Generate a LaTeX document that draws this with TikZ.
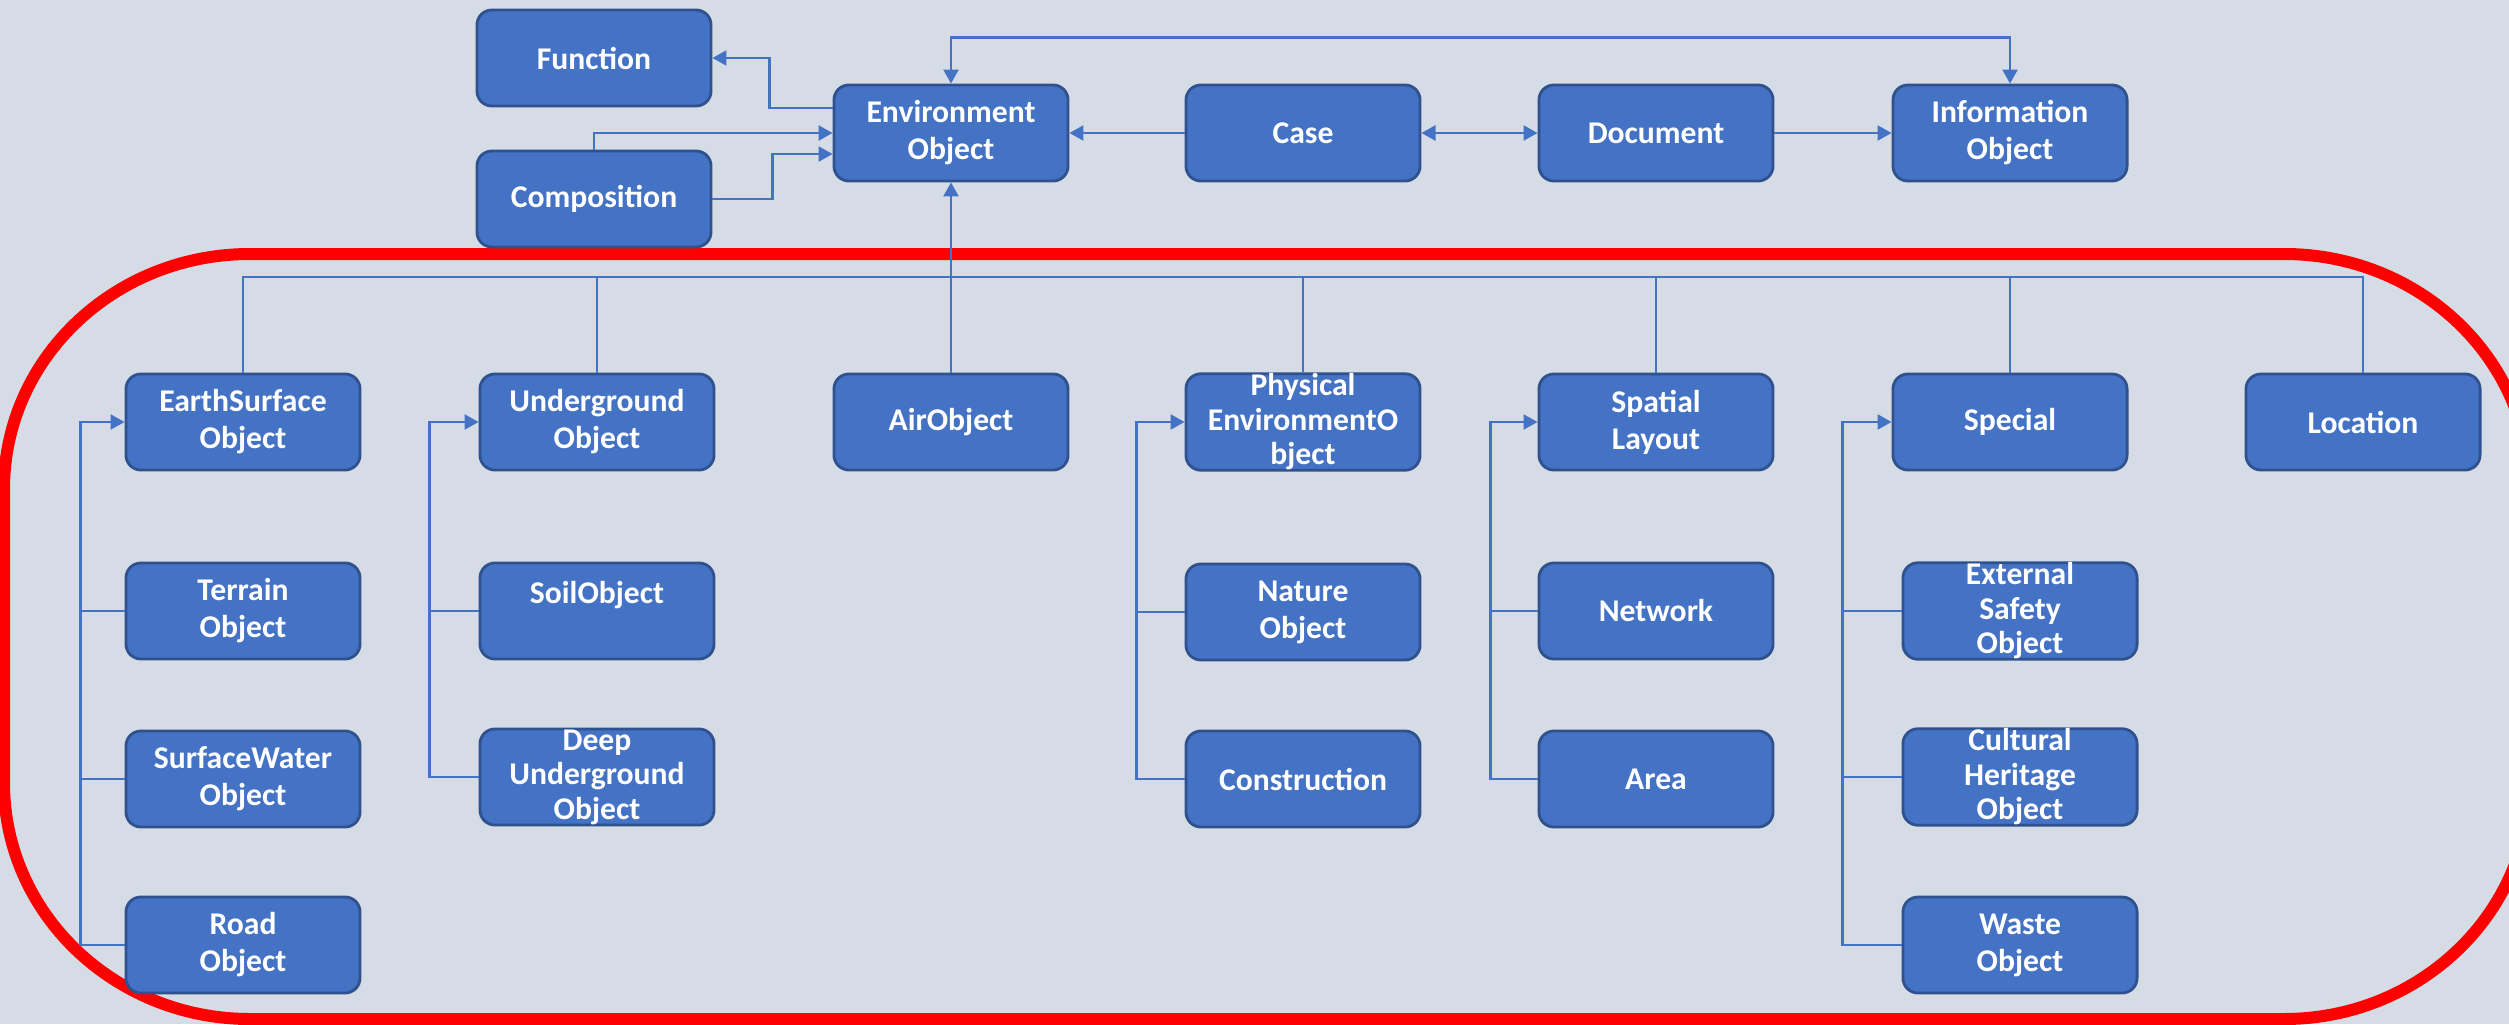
\documentclass[tikz,border=0pt]{standalone}
\usepackage{fontspec}
\setmainfont{Carlito}
\usepackage{xcolor}
\usetikzlibrary{arrows.meta, positioning, calc}

\definecolor{boxblue}{HTML}{4472C4}
\definecolor{boxedge}{HTML}{2F528F}
\definecolor{bgcol}{HTML}{D6DCE5}
\definecolor{linkblue}{HTML}{4472C4}

\tikzset{
  box/.style={draw=boxedge, line width=0.8pt, fill=boxblue, rounded corners=0.15cm,
    minimum width=2.34cm, minimum height=0.96cm, inner sep=0pt, align=center,
    text=white, font=\bfseries\fontsize{9}{10.5}\selectfont},
  tight/.style={font=\bfseries\fontsize{9}{9.8}\selectfont},
  line/.style={draw=linkblue, line width=0.7pt},
  link/.style={line, -{Triangle[length=0.14cm, width=0.15cm]}},
  both/.style={line, {Triangle[length=0.14cm, width=0.15cm]}-{Triangle[length=0.14cm, width=0.15cm]}},
}

\begin{document}
\begin{tikzpicture}[x=0.01cm, y=-0.01cm]
  % Canvas
  \useasboundingbox (0,0) rectangle (2509,1024);
  \fill[bgcol] (0,0) rectangle (2509,1024);

  % Red frame round the object classes
  \begin{scope}
    \clip (0,0) rectangle (2509,1024);
    \draw[red, line width=0.12cm]
      (250,254) -- (2284,254)
      .. controls (2420,254) and (2530,359) .. (2530,489)
      -- (2530,783)
      .. controls (2530,913) and (2420,1019) .. (2284,1019)
      -- (250,1019)
      .. controls (114,1019) and (4,913) .. (4,783)
      -- (4,489)
      .. controls (4,359) and (114,254) .. cycle;
  \end{scope}

  % Top row
  \node[box] (func) at (594,58) {Function};
  \node[box] (comp) at (594,199) {Composition};
  \node[box] (env) at (951,133) {Environment\\Object};
  \node[box] (case) at (1303,133) {Case};
  \node[box] (doc) at (1656,133) {Document};
  \node[box] (info) at (2010,133) {Information\\Object};

  % Object classes
  \node[box] (earth) at (243,422) {EarthSurface\\Object};
  \node[box] (under) at (597,422) {Underground\\Object};
  \node[box] (air) at (951,422) {AirObject};
  \node[box, tight] (phys) at (1303,422) {Physical\\EnvironmentO\\bject};
  \node[box] (spat) at (1656,422) {Spatial\\Layout};
  \node[box] (spec) at (2010,422) {Special};
  \node[box] (loc) at (2363,422) {Location};

  % Sub classes
  \node[box] (terrain) at (243,611) {Terrain\\Object};
  \node[box] (water) at (243,779) {SurfaceWater\\Object};
  \node[box] (road) at (243,945) {Road\\Object};
  \node[box] (soil) at (597,611) {SoilObject\\\mbox{}};
  \node[box, tight] (deep) at (597,777) {Deep\\Underground\\Object};
  \node[box] (nature) at (1303,612) {Nature\\Object};
  \node[box] (constr) at (1303,779) {Construction};
  \node[box] (network) at (1656,611) {Network};
  \node[box] (area) at (1656,779) {Area};
  \node[box, tight] (safety) at (2020,611) {External\\Safety\\Object};
  \node[box, tight] (heritage) at (2020,777) {Cultural\\Heritage\\Object};
  \node[box] (waste) at (2020,945) {Waste\\Object};

  % Links between the top boxes
  \draw[link] ([yshift=0.25cm]env.west) -- ++(-63,0) |- (func.east);
  \draw[link] (comp.north) |- (env.west);
  \draw[link] (comp.east) -- ++(60,0) |- ([yshift=-0.21cm]env.west);
  \draw[both] (env.north) -- ++(0,-46) -| (info.north);
  \draw[link] (case.west) -- (env.east);
  \draw[both] (case.east) -- (doc.west);
  \draw[link] (doc.east) -- (info.west);

  % Bus to the object classes
  \coordinate (bus) at (0,277);
  \draw[line] (earth.north) |- (bus -| loc.north) -- (loc.north);
  \foreach \n in {under, phys, spat, spec}
    \draw[line] (\n.north) -- (\n.north |- bus);
  \draw[link] (air.north) -- (env.south);

  % Trunks to the sub classes
  \draw[link] (road.west) -- ++(-44,0) |- (earth.west);
  \foreach \n in {terrain, water}
    \draw[line] (\n.west) -- ++(-44,0);
  \draw[link] (deep.west) -- ++(-49,0) |- (under.west);
  \draw[line] (soil.west) -- ++(-49,0);
  \draw[link] (constr.west) -- ++(-48,0) |- (phys.west);
  \draw[line] (nature.west) -- ++(-48,0);
  \draw[link] (area.west) -- ++(-47,0) |- (spat.west);
  \draw[line] (network.west) -- ++(-47,0);
  \draw[link] (waste.west) -- ++(-59,0) |- (spec.west);
  \foreach \n in {safety, heritage}
    \draw[line] (\n.west) -- ++(-59,0);
\end{tikzpicture}
\end{document}
